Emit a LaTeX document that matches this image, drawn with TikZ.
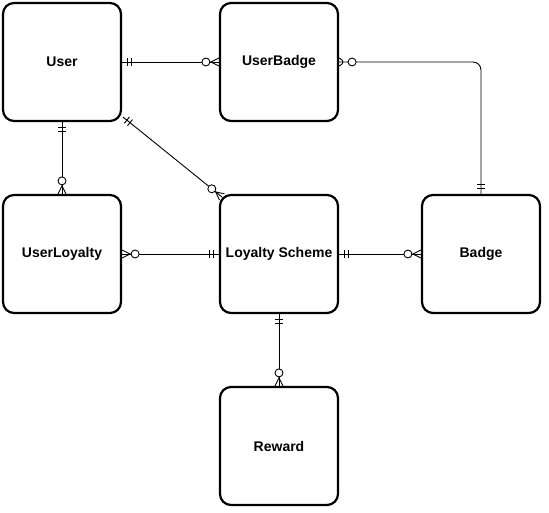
\documentclass[tikz,border=0pt]{standalone}
\usepackage{fontspec}
\setmainfont{Liberation Sans}
\usetikzlibrary{positioning,calc,decorations.markings}

\tikzset{
  entity/.style={draw, line width=2.2pt, rounded corners=11pt,
    minimum size=118pt, inner sep=0pt,
    font=\fontsize{14}{16}\selectfont\bfseries},
  rel/.style={line width=0.9pt},
  one at start/.style={postaction={decorate, decoration={markings,
    mark=at position 5pt with {\draw[rel] (0,-4pt) -- (0,4pt);},
    mark=at position 9pt with {\draw[rel] (0,-4pt) -- (0,4pt);}}}},
  one at end/.style={postaction={decorate, decoration={markings,
    mark=at position -5pt with {\draw[rel] (0,-4pt) -- (0,4pt);},
    mark=at position -9pt with {\draw[rel] (0,-4pt) -- (0,4pt);}}}},
  many at start/.style={postaction={decorate, decoration={markings,
    mark=at position 8pt with {\draw[rel] (-8pt,4pt) -- (0,0) -- (-8pt,-4pt);},
    mark=at position 13pt with {\draw[rel, fill=white] (0,0) circle (4pt);}}}},
  many at end/.style={postaction={decorate, decoration={markings,
    mark=at position -8pt with {\draw[rel] (8pt,4pt) -- (0,0) -- (8pt,-4pt);},
    mark=at position -13pt with {\draw[rel, fill=white] (0,0) circle (4pt);}}}}
}

\begin{document}
\begin{tikzpicture}[x=1pt, y=-1pt]
  \useasboundingbox (0,0) rectangle (549,513);
  % entities
  \node[entity] (user) at (62,62) {User};
  \node[entity] (ubadge) at (279,62) {UserBadge};
  \node[entity] (uloyalty) at (62,254) {UserLoyalty};
  \node[entity] (scheme) at (279,254) {Loyalty Scheme};
  \node[entity] (badge) at (481,254) {Badge};
  \node[entity] (reward) at (279,446) {Reward};
  % relationships
  \begin{scope}[rel]
    \draw[one at start, many at end] (user) -- (ubadge);
    \draw[many at start, one at end, rounded corners=8pt] (ubadge.east) -| (badge.north);
    \draw[one at start, many at end] ($(user.center)+(61,55)$) -- ($(scheme.center)+(-57,-57)$);
    \draw[one at start, many at end] (user) -- (uloyalty);
    \draw[many at start, one at end] (uloyalty) -- (scheme);
    \draw[one at start, many at end] (scheme) -- (badge);
    \draw[one at start, many at end] (scheme) -- (reward);
  \end{scope}
\end{tikzpicture}
\end{document}
